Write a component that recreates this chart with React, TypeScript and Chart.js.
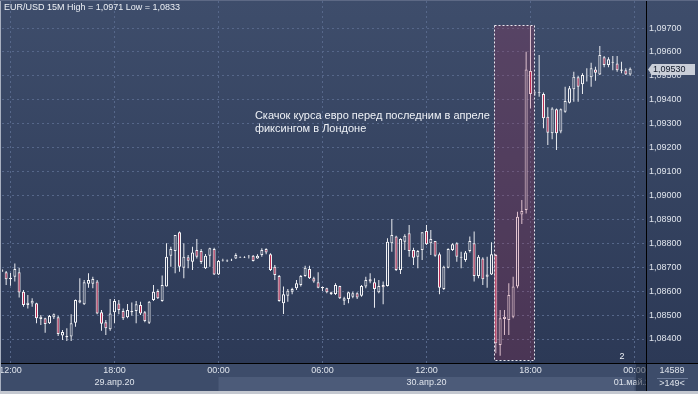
import React, { useEffect, useRef } from 'react';
import { Chart, registerables } from 'chart.js';

Chart.register(...registerables);

const W = 698;
const H = 394;

const symbol = 'EUR/USD 15M';
// bar index 0 = 29.04.2020 12:00, one bar = 15 minutes
const firstBar = -2;

const opens = [
  1.08681, 1.08679, 1.08650, 1.08660, 1.08679, 1.08598, 1.08542, 1.08548, 1.08549, 1.08484,
  1.08487, 1.08466, 1.08491, 1.08491, 1.08415, 1.08407, 1.08410, 1.08468, 1.08553, 1.08545,
  1.08631, 1.08631, 1.08640, 1.08512, 1.08470, 1.08441, 1.08512, 1.08548, 1.08517, 1.08491,
  1.08512, 1.08517, 1.08542, 1.08512, 1.08468, 1.08563, 1.08601, 1.08559, 1.08619, 1.08748,
  1.08768, 1.08846, 1.08698, 1.08742, 1.08723, 1.08772, 1.08768, 1.08696, 1.08748, 1.08776,
  1.08670, 1.08728, 1.08725, 1.08729, 1.08737, 1.08741, 1.08743, 1.08746, 1.08748, 1.08737,
  1.08751, 1.08776, 1.08754, 1.08702, 1.08663, 1.08549, 1.08581, 1.08598, 1.08612, 1.08626,
  1.08663, 1.08693, 1.08654, 1.08637, 1.08612, 1.08612, 1.08595, 1.08588, 1.08622, 1.08560,
  1.08567, 1.08577, 1.08591, 1.08581, 1.08619, 1.08650, 1.08637, 1.08595, 1.08626, 1.08622,
  1.08800, 1.08828, 1.08688, 1.08807, 1.08842, 1.08772, 1.08744, 1.08772, 1.08851, 1.08800,
  1.08810, 1.08754, 1.08609, 1.08698, 1.08772, 1.08800, 1.08740, 1.08730, 1.08768, 1.08800,
  1.08663, 1.08737, 1.08660, 1.08670, 1.08751, 1.08375, 1.08484, 1.08479, 1.08493, 1.08619,
  1.08921, 1.08939, 1.09520, 1.09428, 1.09429, 1.09424, 1.09329, 1.09260, 1.09360, 1.09267,
  1.09350, 1.09388, 1.09444, 1.09494, 1.09465, 1.09494, 1.09494, 1.09527, 1.09506, 1.09578,
  1.09545, 1.09555, 1.09552, 1.09521, 1.09524, 1.09506,
];

const highs = [
  1.08693, 1.08684, 1.08676, 1.08716, 1.08698, 1.08605, 1.08584, 1.08570, 1.08552, 1.08500,
  1.08489, 1.08500, 1.08507, 1.08497, 1.08438, 1.08445, 1.08503, 1.08565, 1.08654, 1.08647,
  1.08675, 1.08660, 1.08647, 1.08521, 1.08479, 1.08567, 1.08567, 1.08563, 1.08528, 1.08546,
  1.08553, 1.08559, 1.08556, 1.08517, 1.08559, 1.08626, 1.08608, 1.08665, 1.08800, 1.08786,
  1.08835, 1.08849, 1.08800, 1.08751, 1.08786, 1.08818, 1.08776, 1.08755, 1.08782, 1.08782,
  1.08730, 1.08735, 1.08732, 1.08735, 1.08758, 1.08745, 1.08746, 1.08751, 1.08751, 1.08754,
  1.08779, 1.08779, 1.08758, 1.08709, 1.08668, 1.08619, 1.08609, 1.08614, 1.08647, 1.08668,
  1.08706, 1.08706, 1.08660, 1.08679, 1.08619, 1.08614, 1.08598, 1.08633, 1.08623, 1.08577,
  1.08598, 1.08598, 1.08595, 1.08626, 1.08660, 1.08675, 1.08654, 1.08647, 1.08640, 1.08821,
  1.08902, 1.08832, 1.08821, 1.08838, 1.08877, 1.08782, 1.08772, 1.08846, 1.08877, 1.08856,
  1.08810, 1.08762, 1.08706, 1.08779, 1.08800, 1.08804, 1.08765, 1.08768, 1.08828, 1.08849,
  1.08751, 1.08742, 1.08744, 1.08804, 1.08755, 1.08521, 1.08521, 1.08633, 1.08660, 1.08932,
  1.08981, 1.09601, 1.09710, 1.09436, 1.09587, 1.09430, 1.09369, 1.09369, 1.09364, 1.09364,
  1.09455, 1.09458, 1.09517, 1.09499, 1.09511, 1.09532, 1.09555, 1.09538, 1.09625, 1.09583,
  1.09578, 1.09583, 1.09583, 1.09559, 1.09532, 1.09535,
];

const lows = [
  1.08680, 1.08626, 1.08623, 1.08640, 1.08573, 1.08535, 1.08528, 1.08535, 1.08466, 1.08459,
  1.08426, 1.08463, 1.08484, 1.08413, 1.08396, 1.08392, 1.08392, 1.08451, 1.08549, 1.08542,
  1.08614, 1.08612, 1.08503, 1.08435, 1.08417, 1.08435, 1.08466, 1.08503, 1.08479, 1.08487,
  1.08497, 1.08466, 1.08500, 1.08470, 1.08463, 1.08559, 1.08567, 1.08556, 1.08619, 1.08702,
  1.08675, 1.08681, 1.08654, 1.08696, 1.08688, 1.08737, 1.08714, 1.08693, 1.08702, 1.08668,
  1.08668, 1.08724, 1.08722, 1.08726, 1.08734, 1.08739, 1.08739, 1.08737, 1.08724, 1.08735,
  1.08744, 1.08754, 1.08684, 1.08647, 1.08556, 1.08505, 1.08556, 1.08587, 1.08605, 1.08619,
  1.08660, 1.08651, 1.08635, 1.08612, 1.08601, 1.08591, 1.08584, 1.08584, 1.08567, 1.08542,
  1.08549, 1.08570, 1.08567, 1.08577, 1.08612, 1.08633, 1.08531, 1.08591, 1.08545, 1.08619,
  1.08765, 1.08684, 1.08672, 1.08772, 1.08744, 1.08709, 1.08696, 1.08730, 1.08793, 1.08751,
  1.08744, 1.08587, 1.08605, 1.08696, 1.08768, 1.08723, 1.08696, 1.08723, 1.08762, 1.08640,
  1.08654, 1.08626, 1.08614, 1.08668, 1.08340, 1.08330, 1.08417, 1.08417, 1.08487, 1.08612,
  1.08881, 1.08925, 1.09364, 1.09418, 1.09413, 1.09281, 1.09211, 1.09235, 1.09190, 1.09260,
  1.09346, 1.09385, 1.09392, 1.09392, 1.09424, 1.09476, 1.09455, 1.09480, 1.09504, 1.09536,
  1.09536, 1.09524, 1.09517, 1.09511, 1.09504, 1.09500,
];

const closes = [
  1.08691, 1.08650, 1.08656, 1.08693, 1.08594, 1.08542, 1.08552, 1.08560, 1.08487, 1.08493,
  1.08463, 1.08496, 1.08503, 1.08421, 1.08429, 1.08413, 1.08466, 1.08563, 1.08562, 1.08637,
  1.08647, 1.08651, 1.08507, 1.08464, 1.08445, 1.08507, 1.08559, 1.08521, 1.08487, 1.08521,
  1.08517, 1.08545, 1.08507, 1.08475, 1.08556, 1.08598, 1.08570, 1.08626, 1.08744, 1.08776,
  1.08835, 1.08702, 1.08744, 1.08727, 1.08762, 1.08744, 1.08722, 1.08748, 1.08779, 1.08670,
  1.08726, 1.08730, 1.08728, 1.08731, 1.08751, 1.08743, 1.08741, 1.08748, 1.08726, 1.08748,
  1.08772, 1.08762, 1.08688, 1.08668, 1.08559, 1.08587, 1.08602, 1.08609, 1.08633, 1.08663,
  1.08698, 1.08654, 1.08640, 1.08614, 1.08617, 1.08595, 1.08588, 1.08626, 1.08570, 1.08570,
  1.08595, 1.08591, 1.08573, 1.08622, 1.08647, 1.08640, 1.08609, 1.08622, 1.08616, 1.08807,
  1.08835, 1.08688, 1.08818, 1.08832, 1.08768, 1.08740, 1.08768, 1.08846, 1.08796, 1.08818,
  1.08748, 1.08614, 1.08702, 1.08776, 1.08796, 1.08744, 1.08744, 1.08762, 1.08810, 1.08663,
  1.08744, 1.08650, 1.08670, 1.08754, 1.08382, 1.08487, 1.08493, 1.08584, 1.08619, 1.08911,
  1.08935, 1.09527, 1.09424, 1.09430, 1.09433, 1.09323, 1.09262, 1.09364, 1.09260, 1.09360,
  1.09395, 1.09448, 1.09496, 1.09455, 1.09504, 1.09496, 1.09532, 1.09513, 1.09587, 1.09545,
  1.09570, 1.09559, 1.09524, 1.09527, 1.09506, 1.09530,
];

const tickBars = [0, 24, 48, 72, 96, 120, 144];
const timeLabels = ['12:00', '18:00', '00:00', '06:00', '12:00', '18:00', '00:00'];
const dateLabels = ['', '29.апр.20', '', '', '30.апр.20', '', '01.май.20'];
const priceTicks = [
  1.084, 1.085, 1.086, 1.087, 1.088, 1.089, 1.09, 1.091, 1.092, 1.093, 1.094, 1.095, 1.096, 1.097,
];
const viewBars = [-1.96, 146.66];
const viewPrices = [1.082997, 1.09813];
const dayBand = [48, 144];
const highlightBars = [111.6, 120.9];
const highlightPrices = [1.08312, 1.09712];
const annotationLines = ['Скачок курса евро перед последним в апреле', 'фиксингом в Лондоне'];
const annotationAt = [56.4, 1.09332];
const footerTotal = '14589';
const footerShown = '>149<';
const cornerMark = '2';

const FONT = '"Liberation Sans", Arial, sans-serif';
const fmt = (v: number, d: number) => v.toFixed(d).replace('.', ',');

export default function App() {
  const ref = useRef<HTMLCanvasElement>(null);

  useEffect(() => {
    document.body.style.margin = '0';
    const canvas = ref.current as HTMLCanvasElement;
    const g = canvas.getContext('2d') as CanvasRenderingContext2D;
    const bg = g.createLinearGradient(0, 0, 0, 363);
    bg.addColorStop(0, '#3e4d6b');
    bg.addColorStop(1, '#2c3956');

    const bars = opens.map((_, i) => firstBar + i);
    const up = opens.map((o, i) => closes[i] >= o);
    const maxHigh = Math.max(...highs);
    const minLow = Math.min(...lows);
    const last = closes[closes.length - 1];
    const title = `${symbol} High = ${fmt(maxHigh, 4)} Low = ${fmt(minLow, 4)}`;

    const chrome = {
      id: 'chrome',
      beforeDraw(chart: any) {
        const c = chart.ctx as CanvasRenderingContext2D;
        const a = chart.chartArea;
        const xs = chart.scales.x;
        c.save();
        c.fillStyle = bg;
        c.fillRect(0, 0, W, a.bottom);
        c.fillStyle = '#3d4c6a';
        c.fillRect(0, a.bottom, W, H - a.bottom);
        const b0 = xs.getPixelForValue(dayBand[0]);
        const b1 = xs.getPixelForValue(dayBand[1]);
        c.fillStyle = '#4c5b79';
        c.fillRect(b0, a.bottom + 14, b1 - b0, H - 3 - a.bottom - 14);
        c.fillStyle = '#c4c8d0';
        c.fillRect(0, H - 3, W, 3);
        c.restore();
      },
      afterDatasetsDraw(chart: any) {
        const c = chart.ctx as CanvasRenderingContext2D;
        const a = chart.chartArea;
        const xs = chart.scales.x;
        const ys = chart.scales.y;
        c.save();
        const x0 = xs.getPixelForValue(highlightBars[0]);
        const x1 = xs.getPixelForValue(highlightBars[1]);
        const yT = ys.getPixelForValue(highlightPrices[1]);
        const yB = ys.getPixelForValue(highlightPrices[0]);
        c.fillStyle = 'rgba(180,40,80,0.22)';
        c.fillRect(x0, yT, x1 - x0, yB - yT);
        c.setLineDash([2, 2]);
        c.strokeStyle = '#e8e8f0';
        c.lineWidth = 1;
        c.strokeRect(Math.round(x0) + 0.5, Math.round(yT) + 0.5, Math.round(x1 - x0), Math.round(yB - yT));
        c.setLineDash([]);

        c.font = `11px ${FONT}`;
        c.fillStyle = '#eef1f6';
        c.textAlign = 'left';
        c.textBaseline = 'middle';
        const ax = xs.getPixelForValue(annotationAt[0]);
        const ay = ys.getPixelForValue(annotationAt[1]);
        annotationLines.forEach((t, i) => c.fillText(t, ax, ay + i * 13));

        c.font = `9px ${FONT}`;
        c.textAlign = 'center';
        c.fillText(cornerMark, a.right - 24, a.bottom - 6);
        c.restore();
      },
      afterDraw(chart: any) {
        const c = chart.ctx as CanvasRenderingContext2D;
        const a = chart.chartArea;
        const ys = chart.scales.y;
        c.save();
        // dark strip at end of time axis
        c.fillStyle = 'rgba(25,35,55,0.5)';
        c.fillRect(a.right - 10, a.bottom + 1, 10, H - 3 - a.bottom - 1);
        // corner box
        c.fillStyle = '#3d4c6a';
        c.fillRect(a.right + 1, a.bottom + 1, W - a.right - 1, H - 3 - a.bottom - 1);
        c.fillStyle = '#6b7a98';
        c.fillRect(a.right + 11, a.bottom + 15, 31, 1);
        c.font = `9px ${FONT}`;
        c.fillStyle = '#dfe4ec';
        c.textAlign = 'center';
        c.textBaseline = 'middle';
        c.fillText(footerTotal, a.right + 26, a.bottom + 8);
        c.fillText(footerShown, a.right + 26, a.bottom + 21);
        // axis lines
        c.fillStyle = '#000';
        c.fillRect(0, a.bottom, W, 1);
        c.fillRect(a.right, 0, 1, H - 3);
        // price marker
        const py = Math.round(ys.getPixelForValue(last)) + 0.5;
        c.beginPath();
        c.moveTo(a.right + 2, py);
        c.lineTo(a.right + 6, py - 5.5);
        c.lineTo(W - 3, py - 5.5);
        c.lineTo(W - 3, py + 5.5);
        c.lineTo(a.right + 6, py + 5.5);
        c.closePath();
        c.fillStyle = '#c9ced8';
        c.fill();
        c.fillStyle = '#101828';
        c.textAlign = 'left';
        c.fillText(fmt(last, 5), a.right + 7, py);
        // title
        c.fillStyle = '#eef1f6';
        c.fillText(title, 4, 8);
        // frame
        c.fillStyle = '#a8b0c0';
        c.fillRect(0, 0, 1, H - 3);
        c.fillStyle = '#5d6985';
        c.fillRect(0, 0, W, 1);
        c.restore();
      },
    };

    const tickFont = { family: FONT, size: 9, lineHeight: 1.4 };

    const chart = new Chart(canvas, {
      type: 'bar',
      data: {
        datasets: [
          {
            label: 'wick',
            data: bars.map((x, i) => ({ x, y: [lows[i], highs[i]] })) as any,
            backgroundColor: '#e9ebf0',
            borderWidth: 0,
            barThickness: 1,
            inflateAmount: 0,
            grouped: false,
            order: 2,
          } as any,
          {
            label: 'body',
            data: bars.map((x, i) => ({ x, y: [opens[i], closes[i]] })) as any,
            backgroundColor: (ctx: any) => (up[ctx.dataIndex] ? bg : '#b8274f'),
            borderColor: '#f4f4f6',
            borderWidth: 1,
            borderSkipped: false,
            barThickness: 3,
            inflateAmount: 0,
            grouped: false,
            order: 1,
          } as any,
        ],
      },
      options: {
        animation: false,
        responsive: false,
        devicePixelRatio: 1,
        events: [],
        layout: { padding: { left: 2, top: 1, right: 0, bottom: 0 } },
        plugins: { legend: { display: false }, tooltip: { enabled: false } },
        scales: {
          x: {
            type: 'linear',
            position: 'bottom',
            min: viewBars[0],
            max: viewBars[1],
            offset: false,
            grid: { offset: false, color: '#56678a', drawTicks: false, lineWidth: 1 },
            border: { display: false, dash: [2, 3] },
            ticks: {
              autoSkip: false,
              maxRotation: 0,
              padding: 1,
              color: '#dfe4ec',
              font: tickFont,
              callback: (_v: any, i: number) =>
                dateLabels[i] ? [timeLabels[i], dateLabels[i]] : timeLabels[i],
            },
            afterBuildTicks: (s: any) => {
              s.ticks = tickBars.map((v) => ({ value: v }));
            },
            afterFit: (s: any) => {
              s.height = 31;
              s.paddingLeft = 0;
              s.paddingRight = 0;
            },
          } as any,
          y: {
            type: 'linear',
            position: 'right',
            min: viewPrices[0],
            max: viewPrices[1],
            beginAtZero: false,
            grid: { color: '#56678a', drawTicks: false, lineWidth: 1 },
            border: { display: false, dash: [2, 3] },
            ticks: {
              padding: 3,
              color: '#dfe4ec',
              font: { family: FONT, size: 9 },
              callback: (v: any) => fmt(Number(v), 5),
            },
            afterBuildTicks: (s: any) => {
              s.ticks = priceTicks.map((v) => ({ value: v }));
            },
            afterFit: (s: any) => {
              s.width = 52;
              s.paddingTop = 0;
              s.paddingBottom = 0;
            },
          } as any,
        },
      },
      plugins: [chrome as any],
    });

    return () => chart.destroy();
  }, []);

  return (
    <div style={{ width: W, height: H }}>
      <canvas ref={ref} width={W} height={H} style={{ display: 'block', width: W, height: H }} />
    </div>
  );
}
